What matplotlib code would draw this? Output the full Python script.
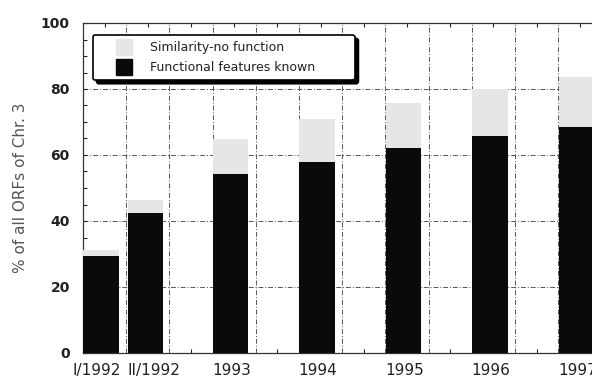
import numpy as np
import matplotlib.pyplot as plt
from matplotlib.lines import Line2D
from matplotlib.ticker import MultipleLocator

periods = ['I/1992', 'II/1992', '1993', '1994', '1995', '1996', '1997']
functional = [29.4, 42.4, 54.2, 58.0, 62.0, 65.7, 68.5]
similarity_total = [31.2, 46.4, 65.0, 71.0, 75.7, 80.0, 83.6]

similarity = [t - f for t, f in zip(similarity_total, functional)]

# bar slots along the x grid (two grid cells per year after 1993)
x_pos = [0.42, 1.45, 3.42, 5.42, 7.42, 9.42, 11.42]
label_pos = [0.31, 1.64, 3.45, 5.44, 7.44, 9.44, 11.44]
bar_w = 0.82
gray = '#e6e6e6'
black = '#0a0a0a'

fig = plt.figure(figsize=(5.92, 3.78), dpi=100)
ax = fig.add_axes([83 / 592, 1 - 353 / 378, 509 / 592, 330 / 378])

ax.bar(x_pos, functional, width=bar_w, color=black, zorder=3)
ax.bar(x_pos, similarity, width=bar_w, bottom=functional, color=gray, zorder=3)

ax.set_xlim(0, 11.78)
ax.set_ylim(0, 100)
ax.yaxis.set_major_locator(MultipleLocator(20))
ax.yaxis.set_minor_locator(MultipleLocator(5))
ax.xaxis.set_major_locator(MultipleLocator(1))
ax.xaxis.set_minor_locator(MultipleLocator(0.5))
ax.grid(True, which='major', color='#555555', linestyle=(0, (5, 2, 1, 2)),
        linewidth=0.7, zorder=0)

ax.tick_params(axis='both', which='both', direction='in', top=True,
               right=False, length=3, width=0.8, colors='#222222')
ax.tick_params(axis='x', which='major', length=0, labelbottom=False)
ax.tick_params(axis='y', labelsize=10, pad=9.5)
for lab in ax.get_yticklabels():
    lab.set_fontweight('bold')
    lab.set_color('#222222')

for x, name in zip(label_pos, periods):
    ax.annotate(name, xy=(x, 0), xycoords=('data', 'axes fraction'),
                xytext=(0, -7), textcoords='offset points',
                ha='center', va='top', fontsize=11, color='#222222')

ax.spines['right'].set_visible(False)
for s in ['left', 'top', 'bottom']:
    ax.spines[s].set_color('#333333')
    ax.spines[s].set_linewidth(0.9)

ax.set_ylabel('% of all ORFs of Chr. 3', fontsize=11, color='#555555',
              labelpad=9)

handles = [
    Line2D([], [], linestyle='none', marker='s', markersize=11,
           markerfacecolor=gray, markeredgecolor=gray),
    Line2D([], [], linestyle='none', marker='s', markersize=11,
           markerfacecolor=black, markeredgecolor=black),
]
labels = ['Similarity-no function', 'Functional features known']
leg = ax.legend(handles, labels, loc='upper left', mode='expand',
                bbox_to_anchor=(0.0196, 0.5, 0.5147, 0.464), fontsize=9,
                frameon=True, fancybox=True, borderaxespad=0,
                shadow={'color': 'black', 'alpha': 1, 'ox': 2.5, 'oy': -2.5},
                edgecolor='black', borderpad=0.5, handlelength=4,
                labelspacing=0.55, handletextpad=0.1)
leg.get_frame().set_linewidth(1.2)
leg.get_frame().set_alpha(1)
for t in leg.get_texts():
    t.set_color('#222222')

fig.savefig('out.png', dpi=100)
